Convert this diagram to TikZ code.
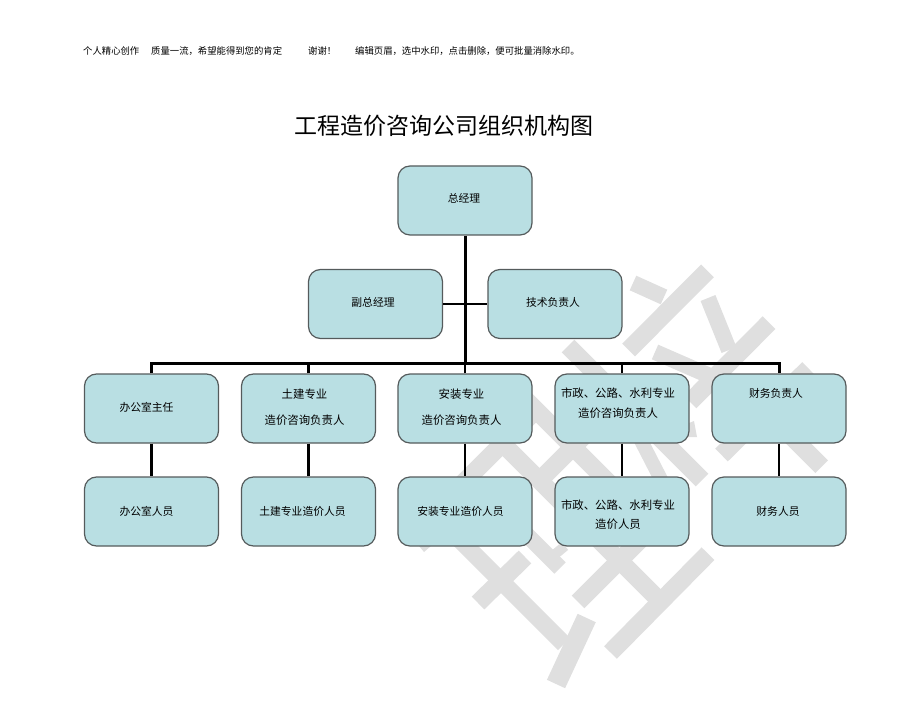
\documentclass[tikz,border=0pt]{standalone}
\usepackage{fontspec}
\setmainfont{Noto Sans CJK SC}
\definecolor{boxfill}{HTML}{B9DFE3}
\definecolor{boxline}{HTML}{555B5C}
\definecolor{markgray}{HTML}{DFDFDF}
\newcommand{\mv}[3]{\makebox[0pt]{\hspace{#1pt}\hspace{#1pt}\raisebox{\dimexpr#2pt-5pt\relax}[0pt][0pt]{\begin{tabular}{@{}c@{}}#3\end{tabular}}}}
\tikzset{
  unit/.style={draw=boxline, line width=1.2pt, fill=boxfill, rounded corners=12pt, minimum width=134pt, minimum height=69pt, inner sep=0pt, font=\fontsize{10.8}{13}\selectfont},
  wide/.style={font=\fontsize{11.4}{13.5}\selectfont},
  mark/.style={draw=markgray, line width=#1},
  mark/.default=18pt,
  hdr/.style={anchor=west, inner sep=0pt, font=\fontsize{9.35}{11}\selectfont},
  trunk/.style={line width=3pt},
  link/.style={line width=2.6pt}
}
\begin{document}
\begin{tikzpicture}[x=1pt,y=-1pt]
  \useasboundingbox (0,0) rectangle (920,711);
  % watermark behind the chart
  \draw[mark] (707.5,270.8) -- (628.6,350);
  \draw[mark=16pt] (633,283) -- (664,297);
  \draw[mark=16pt] (708,298) -- (729,350);
  \draw[mark] (769,322.7) -- (690,402);
  \draw[mark=16pt] (655,352) -- (710,376);
  \draw[mark] (808.5,368.5) -- (721.5,455);
  \draw[mark] (821.7,466.7) -- (760,405);
  \draw[mark] (568,346) -- (702,480);
  \draw[mark=14pt] (632,423) -- (670,497);
  \fill[markgray] (689,423) -- (694,421) -- (697,437) -- (685,437) -- cycle;
  \draw[mark] (530,416) -- (440,506);
  \draw[mark] (490,431) -- (660,601);
  \draw[mark] (525,399) -- (610,484);
  \draw[mark] (535,485) -- (600,420);
  \draw[mark=17pt] (430,510) -- (564,644);
  \draw[mark] (478,603) -- (525,557);
  \draw[mark=16pt] (515,523) -- (560,568);
  \draw[mark=10pt] (548,560) -- (565,546);
  \draw[mark] (578,602) -- (640,540);
  \draw[mark] (708,553.7) -- (610.5,652.5);
  \draw[mark=20pt] (586.7,618) -- (556,684);
  \fill[markgray] (419,546) -- (431,546) -- (424,552) -- cycle;
  % header and title
  \node[hdr] (hdrA) at (83,51) {个人精心创作};
  \node[hdr] (hdrB) at (151,51) {质量一流，希望能得到您的肯定};
  \node[hdr] (hdrC) at (308,51) {谢谢！};
  \node[hdr] (hdrD) at (355,51) {编辑页眉，选中水印，点击删除，便可批量消除水印。};
  \node[inner sep=0pt, font=\fontsize{23}{27}\selectfont] (title) at (443.5,126) {工程造价咨询公司组织机构图};
  % boxes
  \node[unit] (zong) at (465,200.5) {\mv{-1}{2.5}{总经理}};
  \node[unit] (fu) at (375.5,304) {\mv{-2.5}{2}{副总经理}};
  \node[unit] (jishu) at (555,304) {\mv{-2}{2}{技术负责人}};
  \node[unit] (bangong) at (151.5,408.5) {\mv{-5}{2}{办公室主任}};
  \node[unit, wide] (tujian) at (308.5,408.5) {\mv{-4}{2}{土建专业\\[13pt]造价咨询负责人}};
  \node[unit, wide] (anzhuang) at (465,408.5) {\mv{-3.5}{2}{安装专业\\[13pt]造价咨询负责人}};
  \node[unit, wide] (shizheng) at (622,408.5) {\mv{-4}{6}{市政、公路、水利专业\\[5.5pt]造价咨询负责人}};
  \node[unit] (caiwu) at (779,408.5) {\mv{-3}{15.5}{财务负责人}};
  \node[unit] (bangongR) at (151.5,511.5) {\mv{-5}{0.5}{办公室人员}};
  \node[unit] (tujianR) at (308.5,511.5) {\mv{-6}{0.5}{土建专业造价人员}};
  \node[unit] (anzhuangR) at (465,511.5) {\mv{-4.5}{0.5}{安装专业造价人员}};
  \node[unit, wide] (shizhengR) at (622,511.5) {\mv{-4}{-2}{市政、公路、水利专业\\[5.5pt]造价人员}};
  \node[unit] (caiwuR) at (779,511.5) {\mv{-1}{0.5}{财务人员}};
  % connectors
  \coordinate (hub) at (465,363);
  \draw[trunk] (zong) -- (hub);
  \draw[link] (fu) -- (jishu);
  \draw[trunk] (bangong.north) |- (hub) -| (caiwu.north);
  \draw[link] (tujian.north) -- (tujian.north |- hub);
  \draw[link] (anzhuang.north) -- (hub);
  \draw[link] (shizheng.north) -- (shizheng.north |- hub);
  \draw[link] (bangong) -- (bangongR);
  \draw[link] (tujian) -- (tujianR);
  \draw[link] (anzhuang) -- (anzhuangR);
  \draw[link] (shizheng) -- (shizhengR);
  \draw[link] (caiwu) -- (caiwuR);
\end{tikzpicture}
\end{document}
